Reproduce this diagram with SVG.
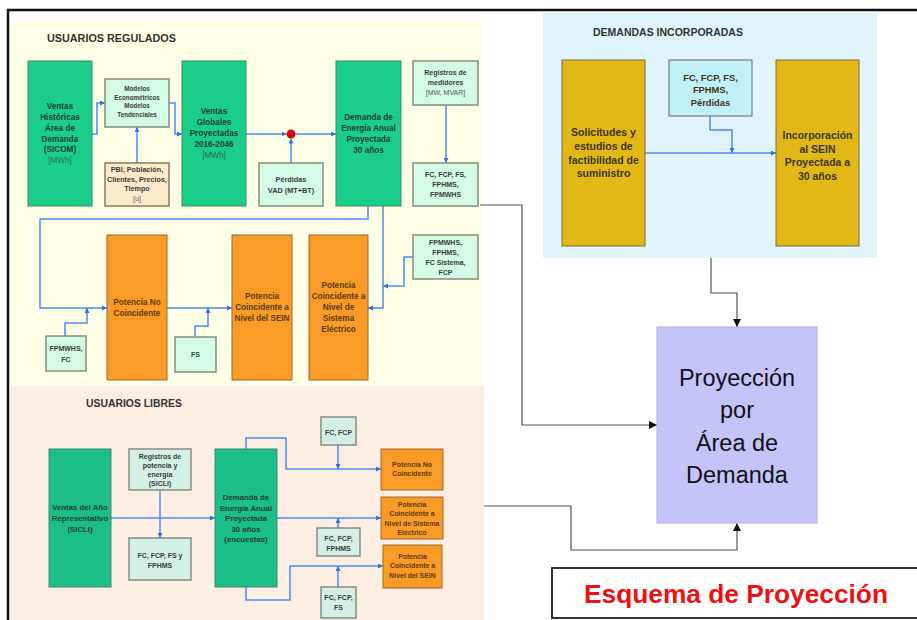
<svg xmlns="http://www.w3.org/2000/svg" width="917" height="620" viewBox="0 0 917 620">
<defs>
<marker id="ab" viewBox="0 0 6 6" refX="6" refY="3" markerWidth="5" markerHeight="5" orient="auto" markerUnits="userSpaceOnUse"><path d="M0,0 L6,3 L0,6 z" fill="#2f6fe0"/></marker>
<marker id="ak" viewBox="0 0 8 8" refX="8" refY="4" markerWidth="8" markerHeight="8" orient="auto" markerUnits="userSpaceOnUse"><path d="M0,0 L8,4 L0,8 z" fill="#111"/></marker>
<style>
text{font-family:"Liberation Sans",Arial,sans-serif;text-anchor:middle}
.ttl{font-weight:bold;font-size:10.8px;fill:#333;text-anchor:start}
.g{fill:#1bcd8a;stroke:#3f8a68;stroke-width:1}
.g2{fill:#1bbd88;stroke:#3f8a68;stroke-width:1}
.m{fill:#d4fbe6;stroke:#8a8a7e;stroke-width:1.5}
.m2{fill:#d4f0e6;stroke:#8a8a7e;stroke-width:1.5}
.b{fill:#fcebcb;stroke:#8a7a5a;stroke-width:1.5}
.o{fill:#f99b26;stroke:#9a6a30;stroke-width:1}
.y{fill:#e2b816;stroke:#7a6a3a;stroke-width:1}
.c{fill:#c0f0f8;stroke:#666;stroke-width:1}
.tg{font-weight:bold;font-size:8.2px;fill:#20402e}
.tgl{font-size:8.2px;fill:#2c6a4c}
.tm{font-weight:bold;font-size:7px;fill:#3a3a3a}
.tml{font-size:7px;fill:#555}
.to{font-weight:bold;font-size:8.2px;fill:#5a3a10}
.tos{font-weight:bold;font-size:6.9px;fill:#5a3a10}
.ty{font-weight:bold;font-size:10.5px;fill:#3d3412}
.bl{fill:none;stroke:#4a8cf2;stroke-width:1.5;marker-end:url(#ab)}
.gr{fill:none;stroke:#555;stroke-width:1.2;marker-end:url(#ak)}
</style>
</defs>
<rect x="0" y="0" width="917" height="620" fill="#fff"/>
<!-- panels -->
<rect x="10" y="22" width="472" height="363" fill="#fffee6"/>
<rect x="10" y="386" width="474" height="234" fill="#fdeee4"/>
<rect x="543" y="13" width="334" height="245" fill="#e2f4fb"/>
<path d="M8 620 V10 H917" fill="none" stroke="#111" stroke-width="2.5"/>
<text class="ttl" x="47" y="42">USUARIOS REGULADOS</text>
<text class="ttl" x="86" y="407" style="font-size:10.4px">USUARIOS LIBRES</text>
<text class="ttl" x="593" y="36" style="font-size:10.5px">DEMANDAS INCORPORADAS</text>

<g id="connectors">
<path class="bl" d="M92 134 H97 V103 H105"/>
<path class="bl" d="M169 103 H175 V134 H182"/>
<path class="bl" d="M137 163 V127"/>
<path class="bl" d="M246 134 H286.5"/>
<path class="bl" d="M295.5 134 H336"/>
<path class="bl" d="M291 163 V138.5"/>
<path class="bl" d="M446 105 V163"/>
<path class="bl" d="M368 206 V219 H40 V308 H107"/>
<path class="bl" d="M167 308 H232"/>
<path class="bl" d="M65 336 V323 H87 V308"/>
<path class="bl" d="M195 337 V326 H208 V308"/>
<path class="bl" d="M383 206 V308 H368"/>
<path class="bl" d="M413 257 H404 V286 H383"/>
<path class="bl" d="M645 153 H776"/>
<path class="bl" d="M710 116 V130 H732 V153"/>
<path class="bl" d="M111 518 H215"/>
<path class="bl" d="M160 490 V538"/>
<path class="bl" d="M246 449 V438 H286 V469 H381"/>
<path class="bl" d="M338 445 V469"/>
<path class="bl" d="M277 518 H381"/>
<path class="bl" d="M338 528 V518"/>
<path class="bl" d="M246 587 V600 H290 V566 H383"/>
<path class="bl" d="M338 587 V566"/>
<path class="gr" d="M480 205 H522 V425 H657"/>
<path class="gr" d="M711 258 V293 H737 V327"/>
<path class="gr" d="M484 506 H571 V550 H737 V523"/>
<circle cx="291" cy="134" r="4.5" fill="#d01010"/>
</g>

<g id="ventas-historicas"><rect class="g" x="28" y="61" width="64" height="145"/>
<text class="tg" x="60" y="109">Ventas</text><text class="tg" x="60" y="120">Históricas</text><text class="tg" x="60" y="131">Área de</text><text class="tg" x="60" y="142">Demanda</text><text class="tg" x="60" y="152">(SICOM)</text><text class="tgl" x="60" y="163">[MWh]</text></g>

<g id="modelos"><rect class="m" x="105" y="79" width="64" height="48"/>
<text class="tm" x="137" y="91" style="font-size:6.3px">Modelos</text><text class="tm" x="137" y="99.5" style="font-size:6.3px">Econométricos</text><text class="tm" x="137" y="108" style="font-size:6.3px">Modelos</text><text class="tm" x="137" y="116.5" style="font-size:6.3px">Tendenciales</text></g>

<g id="pbi"><rect class="b" x="105" y="163" width="64" height="43"/>
<text class="tm" x="137" y="172" style="font-size:7.2px">PBI, Población,</text><text class="tm" x="137" y="181.5" style="font-size:7.2px">Clientes, Precios,</text><text class="tm" x="137" y="191" style="font-size:7.2px">Tiempo</text><text class="tml" x="137" y="200.5" style="font-size:7.2px">[u]</text></g>

<g id="ventas-globales"><rect class="g" x="182" y="61" width="64" height="145"/>
<text class="tg" x="214" y="114">Ventas</text><text class="tg" x="214" y="125">Globales</text><text class="tg" x="214" y="136">Proyectadas</text><text class="tg" x="214" y="147">2016-2046</text><text class="tgl" x="214" y="158">[MWh]</text></g>

<g id="perdidas"><rect class="m" x="259" y="163" width="64" height="43"/>
<text class="tm" x="291" y="182" style="font-size:7.3px">Pérdidas</text><text class="tm" x="291" y="193" style="font-size:7.3px">VAD (MT+BT)</text></g>

<g id="demanda-anual"><rect class="g" x="336" y="61" width="65" height="145"/>
<text class="tg" x="368.5" y="120">Demanda de</text><text class="tg" x="368.5" y="131">Energía Anual</text><text class="tg" x="368.5" y="142">Proyectada</text><text class="tg" x="368.5" y="153">30 años</text></g>

<g id="registros-medidores"><rect class="m" x="413" y="61" width="65" height="44"/>
<text class="tm" x="445.5" y="75">Registros de</text><text class="tm" x="445.5" y="85">medidores</text><text class="tml" x="445.5" y="95">[MW, MVAR]</text></g>

<g id="fc-fcp-fs-1"><rect class="m" x="413" y="163" width="65" height="43"/>
<text class="tm" x="445.5" y="177">FC, FCP, FS,</text><text class="tm" x="445.5" y="187">FPHMS,</text><text class="tm" x="445.5" y="197">FPMWHS</text></g>

<g id="fpmwhs-fphms"><rect class="m" x="413" y="235" width="65" height="44"/>
<text class="tm" x="445.5" y="245">FPMWHS,</text><text class="tm" x="445.5" y="255">FPHMS,</text><text class="tm" x="445.5" y="265">FC Sistema,</text><text class="tm" x="445.5" y="275">FCP</text></g>

<g id="pot-no-coincidente"><rect class="o" x="107" y="235" width="60" height="145"/>
<text class="to" x="137" y="305">Potencia No</text><text class="to" x="137" y="316">Coincidente</text></g>

<g id="pot-sein"><rect class="o" x="232" y="235" width="60" height="145"/>
<text class="to" x="262" y="299">Potencia</text><text class="to" x="262" y="310">Coincidente a</text><text class="to" x="262" y="321">Nivel del SEIN</text></g>

<g id="pot-sistema"><rect class="o" x="309" y="235" width="59" height="145"/>
<text class="to" x="338.5" y="288">Potencia</text><text class="to" x="338.5" y="299">Coincidente a</text><text class="to" x="338.5" y="310">Nivel de</text><text class="to" x="338.5" y="321">Sistema</text><text class="to" x="338.5" y="332">Eléctrico</text></g>

<g id="fpmwhs-fc"><rect class="m" x="46" y="336" width="40" height="35"/>
<text class="tm" x="66" y="351">FPMWHS,</text><text class="tm" x="66" y="362">FC</text></g>

<g id="fs"><rect class="m" x="175" y="337" width="41" height="35"/>
<text class="tm" x="195.5" y="357">FS</text></g>

<g id="ventas-anio"><rect class="g2" x="49" y="449" width="62" height="138"/>
<text class="tg" x="80" y="510" style="font-size:7.8px">Ventas del Año</text><text class="tg" x="80" y="521" style="font-size:7.8px">Representativo</text><text class="tg" x="80" y="532" style="font-size:7.8px">(SICLI)</text></g>

<g id="registros-potencia"><rect class="m2" x="129" y="449" width="62" height="41"/>
<text class="tm" x="160" y="459">Registros de</text><text class="tm" x="160" y="468">potencia y</text><text class="tm" x="160" y="477">energía</text><text class="tm" x="160" y="486">(SICLI)</text></g>

<g id="fc-fcp-fs-y"><rect class="m2" x="129" y="538" width="62" height="42"/>
<text class="tm" x="160" y="558">FC, FCP, FS y</text><text class="tm" x="160" y="567.5">FPHMS</text></g>

<g id="demanda-encuestas"><rect class="g2" x="215" y="449" width="62" height="138"/>
<text class="tg" x="246" y="500" style="font-size:7.8px">Demanda de</text><text class="tg" x="246" y="510.5" style="font-size:7.8px">Energía Anual</text><text class="tg" x="246" y="521" style="font-size:7.8px">Proyectada</text><text class="tg" x="246" y="531.5" style="font-size:7.8px">30 años</text><text class="tg" x="246" y="542" style="font-size:7.8px">(encuestas)</text></g>

<g id="fc-fcp-l"><rect class="m2" x="321" y="417" width="35" height="28"/>
<text class="tm" x="338.5" y="435">FC, FCP</text></g>

<g id="pot-no-coinc-l"><rect class="o" x="381" y="449" width="62" height="41"/>
<text class="tos" x="412" y="467">Potencia No</text><text class="tos" x="412" y="476">Coincidente</text></g>

<g id="fc-fcp-fphms-l"><rect class="m2" x="317" y="528" width="43" height="28"/>
<text class="tm" x="338.5" y="541">FC, FCP,</text><text class="tm" x="338.5" y="550.5">FPHMS</text></g>

<g id="pot-sistema-l"><rect class="o" x="381" y="497" width="62" height="42"/>
<text class="tos" x="412" y="506.5">Potencia</text><text class="tos" x="412" y="516">Coincidente a</text><text class="tos" x="412" y="525.5">Nivel de Sistema</text><text class="tos" x="412" y="535">Eléctrico</text></g>

<g id="fc-fcp-fs-l"><rect class="m2" x="321" y="587" width="35" height="31"/>
<text class="tm" x="338.5" y="600">FC, FCP,</text><text class="tm" x="338.5" y="610">FS</text></g>

<g id="pot-sein-l"><rect class="o" x="383" y="545" width="59" height="43"/>
<text class="tos" x="412.5" y="558.5">Potencia</text><text class="tos" x="412.5" y="568">Coincidente a</text><text class="tos" x="412.5" y="577.5">Nivel del SEIN</text></g>

<g id="solicitudes"><rect class="y" x="562" y="60" width="83" height="186"/>
<text class="ty" x="603.5" y="136">Solicitudes  y</text><text class="ty" x="603.5" y="150">estudios de</text><text class="ty" x="603.5" y="163.5">factibilidad de</text><text class="ty" x="603.5" y="177">suministro</text></g>

<g id="fc-fcp-perdidas"><rect class="c" x="669" y="60" width="83" height="56"/>
<text class="ty" x="710.5" y="80.5" style="font-size:9.3px">FC, FCP, FS,</text><text class="ty" x="710.5" y="93" style="font-size:9.3px">FPHMS,</text><text class="ty" x="710.5" y="105.5" style="font-size:9.3px">Pérdidas</text></g>

<g id="incorporacion"><rect class="y" x="776" y="60" width="83" height="186"/>
<text class="ty" x="817.5" y="139">Incorporación</text><text class="ty" x="817.5" y="152.5">al SEIN</text><text class="ty" x="817.5" y="166">Proyectada a</text><text class="ty" x="817.5" y="179.5">30 años</text></g>

<g id="proyeccion"><rect x="657" y="327" width="160" height="196" fill="#c4c4fa" stroke="#b0b0e0" stroke-width="1"/>
<text x="737" y="386" style="font-size:23.5px;fill:#111">Proyección</text><text x="737" y="418" style="font-size:23.5px;fill:#111">por</text><text x="737" y="450.5" style="font-size:23.5px;fill:#111">Área de</text><text x="737" y="483" style="font-size:23.5px;fill:#111">Demanda</text></g>

<g id="esquema"><rect x="552" y="568" width="370" height="50" fill="#fff" stroke="#333" stroke-width="2"/>
<text x="736" y="603" style="font-size:26.3px;font-weight:bold;fill:#ee1111">Esquema de Proyección</text></g>
</svg>
